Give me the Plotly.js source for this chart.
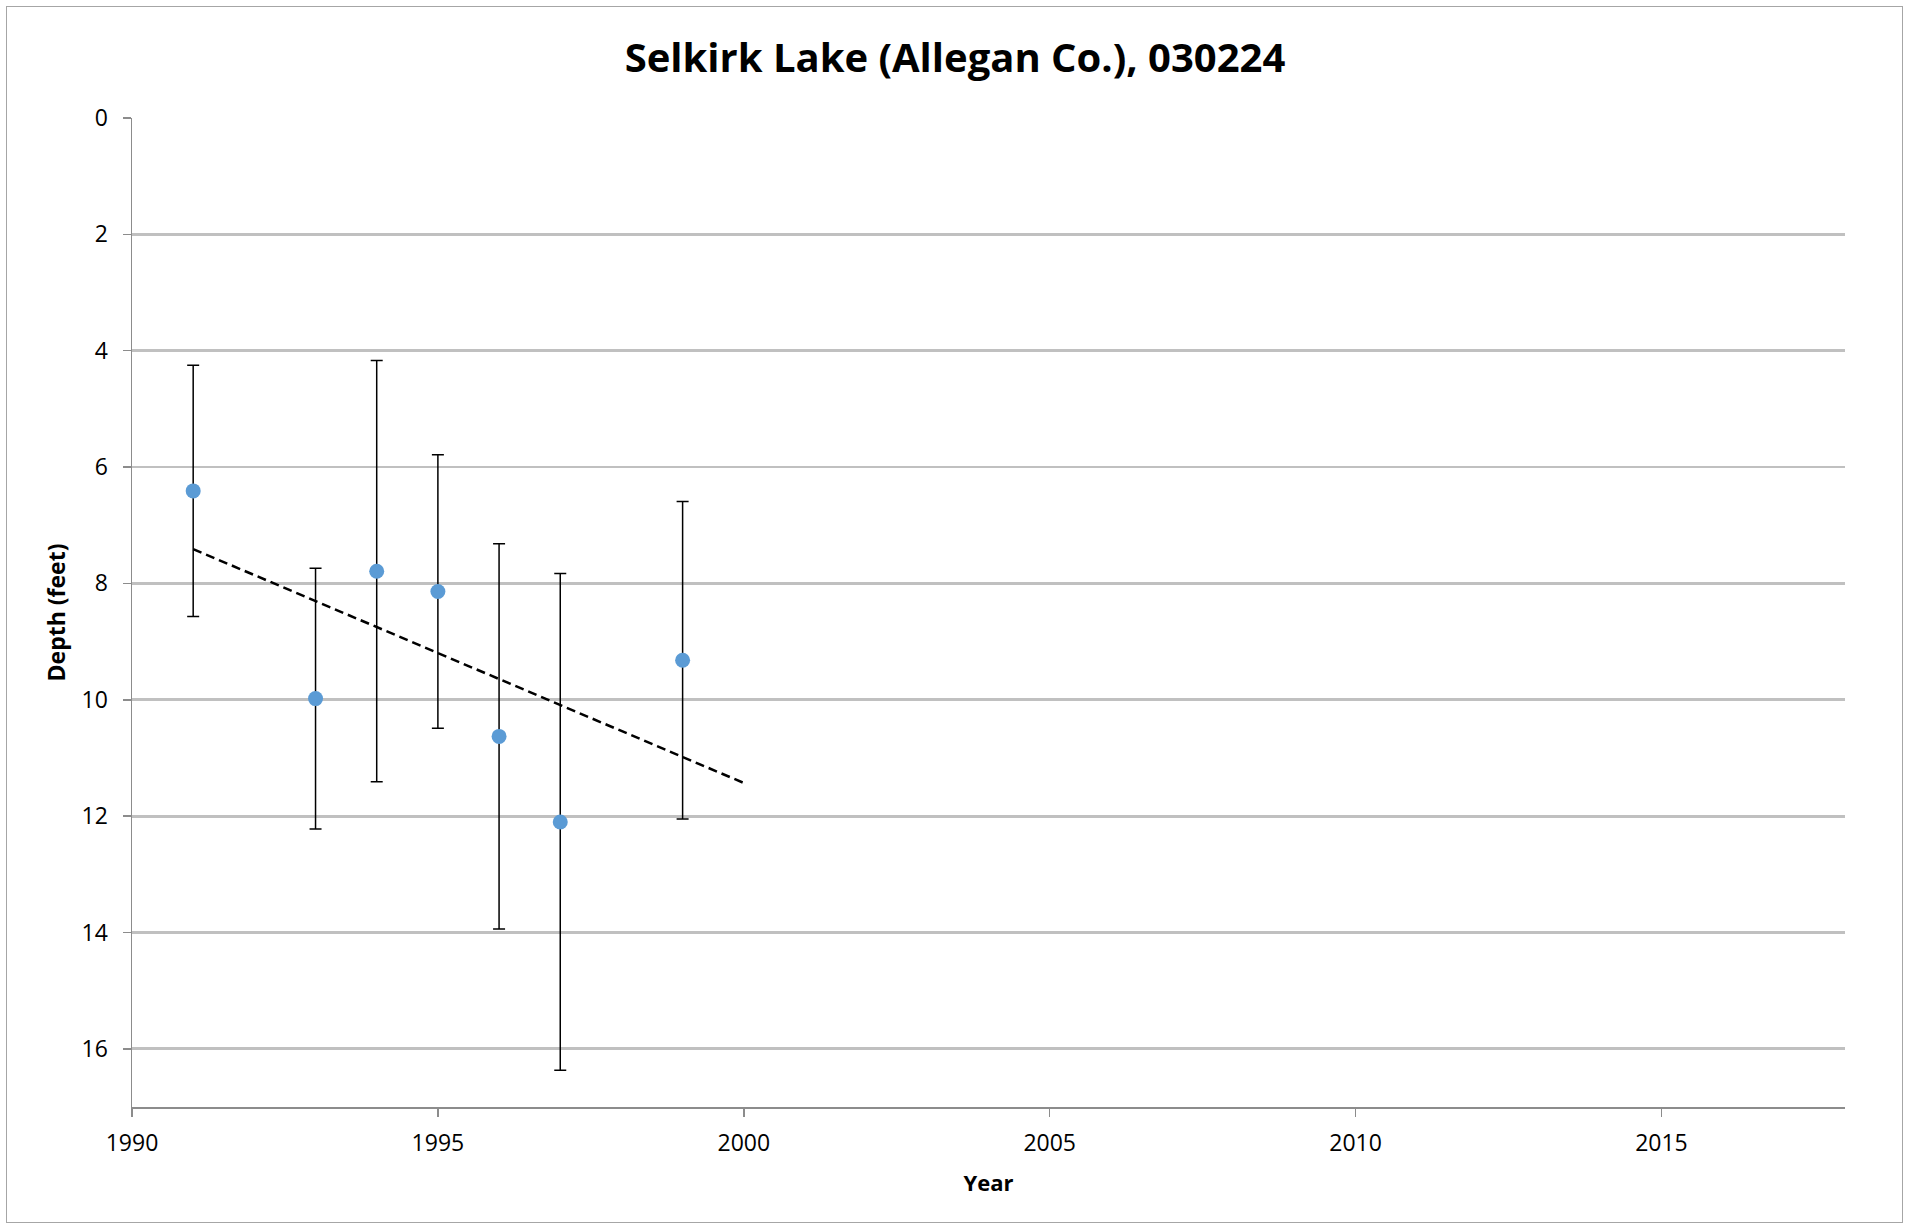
<!DOCTYPE html>
<html>
<head>
<meta charset="utf-8">
<script src="https://cdn.plot.ly/plotly-3.0.1.min.js"></script>
<style>
  html, body { margin: 0; padding: 0; background: #fff; }
  #wrap { position: relative; width: 1910px; height: 1225px; }
  #chart { width: 1910px; height: 1225px; }
  #frame { position: absolute; left: 6px; top: 6px; width: 1895px; height: 1215px;
           border: 1px solid #A6A6A6; pointer-events: none; }
</style>
</head>
<body>
<div id="wrap">
  <div id="chart"></div>
  <div id="frame"></div>
</div>
<script>
// Data
const years = [1991, 1993, 1994, 1995, 1996, 1997, 1999];
const depth = [6.41, 9.98, 7.79, 8.14, 10.63, 12.10, 9.32];
const depthErr = [2.16, 2.24, 3.62, 2.35, 3.31, 4.27, 2.73];
const trendYears = [1991, 2000];
const trendDepth = [7.41, 11.43];
const xTickVals = [1990, 1995, 2000, 2005, 2010, 2015];
const yTickVals = [0, 2, 4, 6, 8, 10, 12, 14, 16];

const FONT = "Open Sans, sans-serif";

const traces = [
  {
    x: trendYears, y: trendDepth, type: 'scatter', mode: 'lines',
    line: { color: '#000000', width: 2.5, dash: '9px,5px' },
    hoverinfo: 'skip', showlegend: false
  },
  {
    x: years, y: depth, type: 'scatter', mode: 'markers',
    marker: { color: '#5B9BD5', size: 15 },
    error_y: { type: 'data', array: depthErr, visible: true,
               color: '#000000', thickness: 1.5, width: 6 },
    showlegend: false
  }
];

const layout = {
  width: 1910, height: 1225,
  paper_bgcolor: '#ffffff', plot_bgcolor: '#ffffff',
  margin: { l: 132, r: 65, t: 118, b: 118 },
  font: { family: FONT, color: '#000000' },
  title: {
    text: '<b>Selkirk Lake (Allegan Co.), 030224</b>',
    font: { family: FONT, size: 40, color: '#000000' },
    x: 0.5, xref: 'container', xanchor: 'center',
    y: 1 - 58 / 1225, yref: 'container', yanchor: 'middle'
  },
  xaxis: {
    range: [1990, 2018],
    tickvals: xTickVals, ticktext: xTickVals.map(String),
    showgrid: false, zeroline: false,
    showline: true, linecolor: '#8C8C8C', linewidth: 1.5,
    ticks: 'outside', ticklen: 8, tickcolor: '#8C8C8C', tickwidth: 1.5,
    tickfont: { family: FONT, size: 23, color: '#000000' },
    ticklabelstandoff: 7,
    title: { text: '<b>Year</b>', font: { family: FONT, size: 22, color: '#000000' }, standoff: 18 }
  },
  yaxis: {
    range: [17, 0],
    tickvals: yTickVals, ticktext: yTickVals.map(String),
    showgrid: true, gridcolor: '#C0C0C0', gridwidth: 2.8,
    zeroline: false,
    showline: true, linecolor: '#8C8C8C', linewidth: 1.5,
    ticks: 'outside', ticklen: 8, tickcolor: '#8C8C8C', tickwidth: 1.5,
    tickfont: { family: FONT, size: 23, color: '#000000' },
    ticklabelstandoff: 10,
    title: { text: '<b>Depth (feet)</b>', font: { family: FONT, size: 23, color: '#000000' }, standoff: 9 }
  }
};

Plotly.newPlot('chart', traces, layout, { displayModeBar: false, staticPlot: true });
</script>
</body>
</html>
